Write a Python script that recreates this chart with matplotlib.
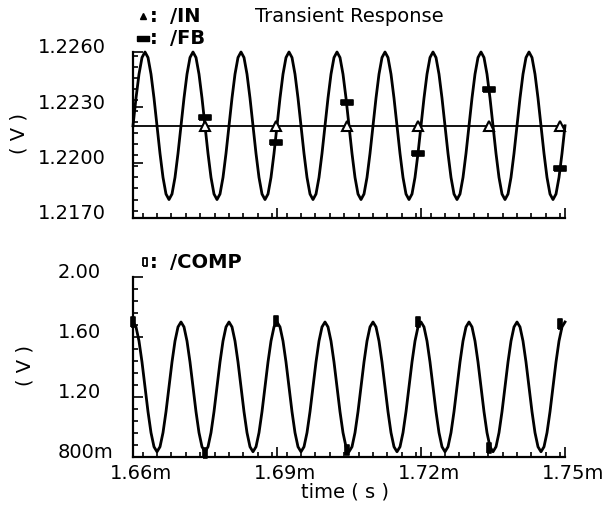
import numpy as np
import matplotlib
matplotlib.use("Agg")
import matplotlib.pyplot as plt
from matplotlib.lines import Line2D
from matplotlib.ticker import MultipleLocator
from matplotlib.transforms import ScaledTranslation

# ── Data ───────────────────────────────────────────────────────
# sampled every 0.625 us starting at 1.66 ms (one row = one 10 us period)
T_START_MS = 1.66
T_STEP_MS = 0.000625

FB_V = [
    1.2220, 1.2235, 1.2248, 1.2257, 1.2260, 1.2257, 1.2248, 1.2235, 1.2220, 1.2205, 1.2192, 1.2183, 1.2180, 1.2183, 1.2192, 1.2205,
    1.2220, 1.2235, 1.2248, 1.2257, 1.2260, 1.2257, 1.2248, 1.2235, 1.2220, 1.2205, 1.2192, 1.2183, 1.2180, 1.2183, 1.2192, 1.2205,
    1.2220, 1.2235, 1.2248, 1.2257, 1.2260, 1.2257, 1.2248, 1.2235, 1.2220, 1.2205, 1.2192, 1.2183, 1.2180, 1.2183, 1.2192, 1.2205,
    1.2220, 1.2235, 1.2248, 1.2257, 1.2260, 1.2257, 1.2248, 1.2235, 1.2220, 1.2205, 1.2192, 1.2183, 1.2180, 1.2183, 1.2192, 1.2205,
    1.2220, 1.2235, 1.2248, 1.2257, 1.2260, 1.2257, 1.2248, 1.2235, 1.2220, 1.2205, 1.2192, 1.2183, 1.2180, 1.2183, 1.2192, 1.2205,
    1.2220, 1.2235, 1.2248, 1.2257, 1.2260, 1.2257, 1.2248, 1.2235, 1.2220, 1.2205, 1.2192, 1.2183, 1.2180, 1.2183, 1.2192, 1.2205,
    1.2220, 1.2235, 1.2248, 1.2257, 1.2260, 1.2257, 1.2248, 1.2235, 1.2220, 1.2205, 1.2192, 1.2183, 1.2180, 1.2183, 1.2192, 1.2205,
    1.2220, 1.2235, 1.2248, 1.2257, 1.2260, 1.2257, 1.2248, 1.2235, 1.2220, 1.2205, 1.2192, 1.2183, 1.2180, 1.2183, 1.2192, 1.2205,
    1.2220, 1.2235, 1.2248, 1.2257, 1.2260, 1.2257, 1.2248, 1.2235, 1.2220, 1.2205, 1.2192, 1.2183, 1.2180, 1.2183, 1.2192, 1.2205,
    1.2220,
]

COMP_V = [
    1.700, 1.667, 1.573, 1.433, 1.268, 1.102, 0.962, 0.868, 0.835, 0.868, 0.962, 1.102, 1.268, 1.433, 1.573, 1.667,
    1.700, 1.667, 1.573, 1.433, 1.268, 1.102, 0.962, 0.868, 0.835, 0.868, 0.962, 1.102, 1.268, 1.433, 1.573, 1.667,
    1.700, 1.667, 1.573, 1.433, 1.268, 1.102, 0.962, 0.868, 0.835, 0.868, 0.962, 1.102, 1.268, 1.433, 1.573, 1.667,
    1.700, 1.667, 1.573, 1.433, 1.268, 1.102, 0.962, 0.868, 0.835, 0.868, 0.962, 1.102, 1.268, 1.433, 1.573, 1.667,
    1.700, 1.667, 1.573, 1.433, 1.268, 1.102, 0.962, 0.868, 0.835, 0.868, 0.962, 1.102, 1.268, 1.433, 1.573, 1.667,
    1.700, 1.667, 1.573, 1.433, 1.268, 1.102, 0.962, 0.868, 0.835, 0.868, 0.962, 1.102, 1.268, 1.433, 1.573, 1.667,
    1.700, 1.667, 1.573, 1.433, 1.268, 1.102, 0.962, 0.868, 0.835, 0.868, 0.962, 1.102, 1.268, 1.433, 1.573, 1.667,
    1.700, 1.667, 1.573, 1.433, 1.268, 1.102, 0.962, 0.868, 0.835, 0.868, 0.962, 1.102, 1.268, 1.433, 1.573, 1.667,
    1.700, 1.667, 1.573, 1.433, 1.268, 1.102, 0.962, 0.868, 0.835, 0.868, 0.962, 1.102, 1.268, 1.433, 1.573, 1.667,
    1.700,
]

IN_T = [1.66, 1.75]
IN_V = [1.2220, 1.2220]

# waveform markers
MARK_T = [1.6600, 1.6749, 1.6897, 1.7045, 1.7194, 1.7342, 1.7490]
IN_MARK_V = [1.2220, 1.2220, 1.2220, 1.2220, 1.2220, 1.2220, 1.2220]
FB_MARK_V = [1.2220, 1.2225, 1.2211, 1.2233, 1.2205, 1.2240, 1.2197]
COMP_MARK_V = [1.700, 0.830, 1.705, 0.845, 1.700, 0.860, 1.690]

X_TICKS = [1.66, 1.69, 1.72, 1.75]
X_LABELS = ["1.66m", "1.69m", "1.72m", "1.75m"]
TOP_Y_TICKS = [1.217, 1.220, 1.223, 1.226]
TOP_Y_LABELS = ["1.2170", "1.2200", "1.2230", "1.2260"]
BOT_Y_TICKS = [0.8, 1.2, 1.6, 2.0]
BOT_Y_LABELS = ["800m", "1.20", "1.60", "2.00"]

W, H = 606, 508
FS = 14
plt.rcParams["font.family"] = ["DejaVu Sans"]

DASH = [(-1, -0.45), (1, -0.45), (1, 0.45), (-1, 0.45), (-1, -0.45)]
BAR = [(-0.45, -1), (0.45, -1), (0.45, 1), (-0.45, 1), (-0.45, -1)]


def fx(px):
    return px / W


def fy(py):
    return 1 - py / H


def style_axes(ax, fig, y_ticks, y_labels, y_minor, label_left_px, show_x):
    for side in ("top", "right"):
        ax.spines[side].set_visible(False)
    for side in ("left", "bottom"):
        ax.spines[side].set_linewidth(1.6)
    ax.set_xlim(1.66, 1.75)
    ax.set_xticks(X_TICKS)
    ax.xaxis.set_minor_locator(MultipleLocator(0.003))
    ax.set_yticks(y_ticks)
    ax.set_yticklabels(y_labels, fontsize=FS)
    ax.yaxis.set_minor_locator(MultipleLocator(y_minor))
    ax.tick_params(which="both", direction="in", width=1.2, colors="black")
    ax.tick_params(which="major", length=7)
    ax.tick_params(which="minor", length=3.5)
    pad_pt = (133 - label_left_px) * 0.72
    ax.tick_params(axis="y", pad=pad_pt)
    up = ScaledTranslation(0, 6 / 100, fig.dpi_scale_trans)
    for lbl in ax.get_yticklabels():
        lbl.set_ha("left")
        lbl.set_transform(lbl.get_transform() + up)
    if show_x:
        ax.set_xticklabels(X_LABELS, fontsize=FS)
        ax.tick_params(axis="x", pad=5)
        right = ScaledTranslation(8 / 100, 0, fig.dpi_scale_trans)
        for lbl in ax.get_xticklabels():
            lbl.set_transform(lbl.get_transform() + right)
    else:
        ax.set_xticklabels([])


def main():
    t = T_START_MS + np.arange(len(FB_V)) * T_STEP_MS

    fig = plt.figure(figsize=(W / 100, H / 100), dpi=100)
    ax1 = fig.add_axes([fx(133), fy(218), fx(565) - fx(133), fy(52) - fy(218)])
    ax2 = fig.add_axes([fx(133), fy(457), fx(565) - fx(133), fy(277) - fy(457)])

    # top: /IN (flat reference) and /FB (sinusoid)
    ax1.plot(IN_T, IN_V, color="black", lw=1.3, clip_on=False)
    ax1.plot(t, FB_V, color="black", lw=2.0, clip_on=False)
    ax1.plot(MARK_T[1:], IN_MARK_V[1:], ls="none", marker="^", ms=6.5,
             mfc="white", mec="black", mew=1.5, clip_on=False)
    ax1.plot(MARK_T[1:], FB_MARK_V[1:], ls="none", marker=DASH, ms=8,
             mfc="black", mec="black", mew=1.2, clip_on=False)
    ax1.set_ylim(1.217, 1.226)
    style_axes(ax1, fig, TOP_Y_TICKS, TOP_Y_LABELS, 0.0006, 38, False)

    # bottom: /COMP
    ax2.plot(t, COMP_V, color="black", lw=2.0, clip_on=False)
    ax2.plot(MARK_T, COMP_MARK_V, ls="none", marker=BAR, ms=7,
             mfc="black", mec="black", mew=1.2, clip_on=False)
    ax2.set_ylim(0.8, 2.0)
    style_axes(ax2, fig, BOT_Y_TICKS, BOT_Y_LABELS, 0.08, 58, True)

    # header / legend texts
    fig.text(fx(255), fy(16), "Transient Response", fontsize=FS, va="center")
    fig.add_artist(Line2D([fx(143)], [fy(16)], marker="^", ms=5, color="black",
                          transform=fig.transFigure))
    fig.add_artist(Line2D([fx(143)], [fy(38)], marker=DASH, ms=8, color="black",
                          transform=fig.transFigure))
    fig.add_artist(Line2D([fx(145)], [fy(262)], marker=BAR, ms=6, mfc="white",
                          mec="black", mew=1.3, color="black", transform=fig.transFigure))
    for py in (16, 38, 262):
        fig.text(fx(150), fy(py), ":", fontsize=FS, fontweight="bold", va="center")
    fig.text(fx(170), fy(17), "/IN", fontsize=FS, fontweight="bold", va="center")
    fig.text(fx(170), fy(38), "/FB", fontsize=FS, fontweight="bold", va="center")
    fig.text(fx(170), fy(262), "/COMP", fontsize=FS, fontweight="bold", va="center")

    # axis titles
    fig.text(fx(19), fy(134), "( V )", fontsize=FS, rotation=90, ha="center", va="center")
    fig.text(fx(25), fy(365), "( V )", fontsize=FS, rotation=90, ha="center", va="center")
    fig.text(fx(345), fy(492), "time ( s )", fontsize=FS, ha="center", va="center")

    fig.savefig("out.png", dpi=100)


if __name__ == "__main__":
    main()
